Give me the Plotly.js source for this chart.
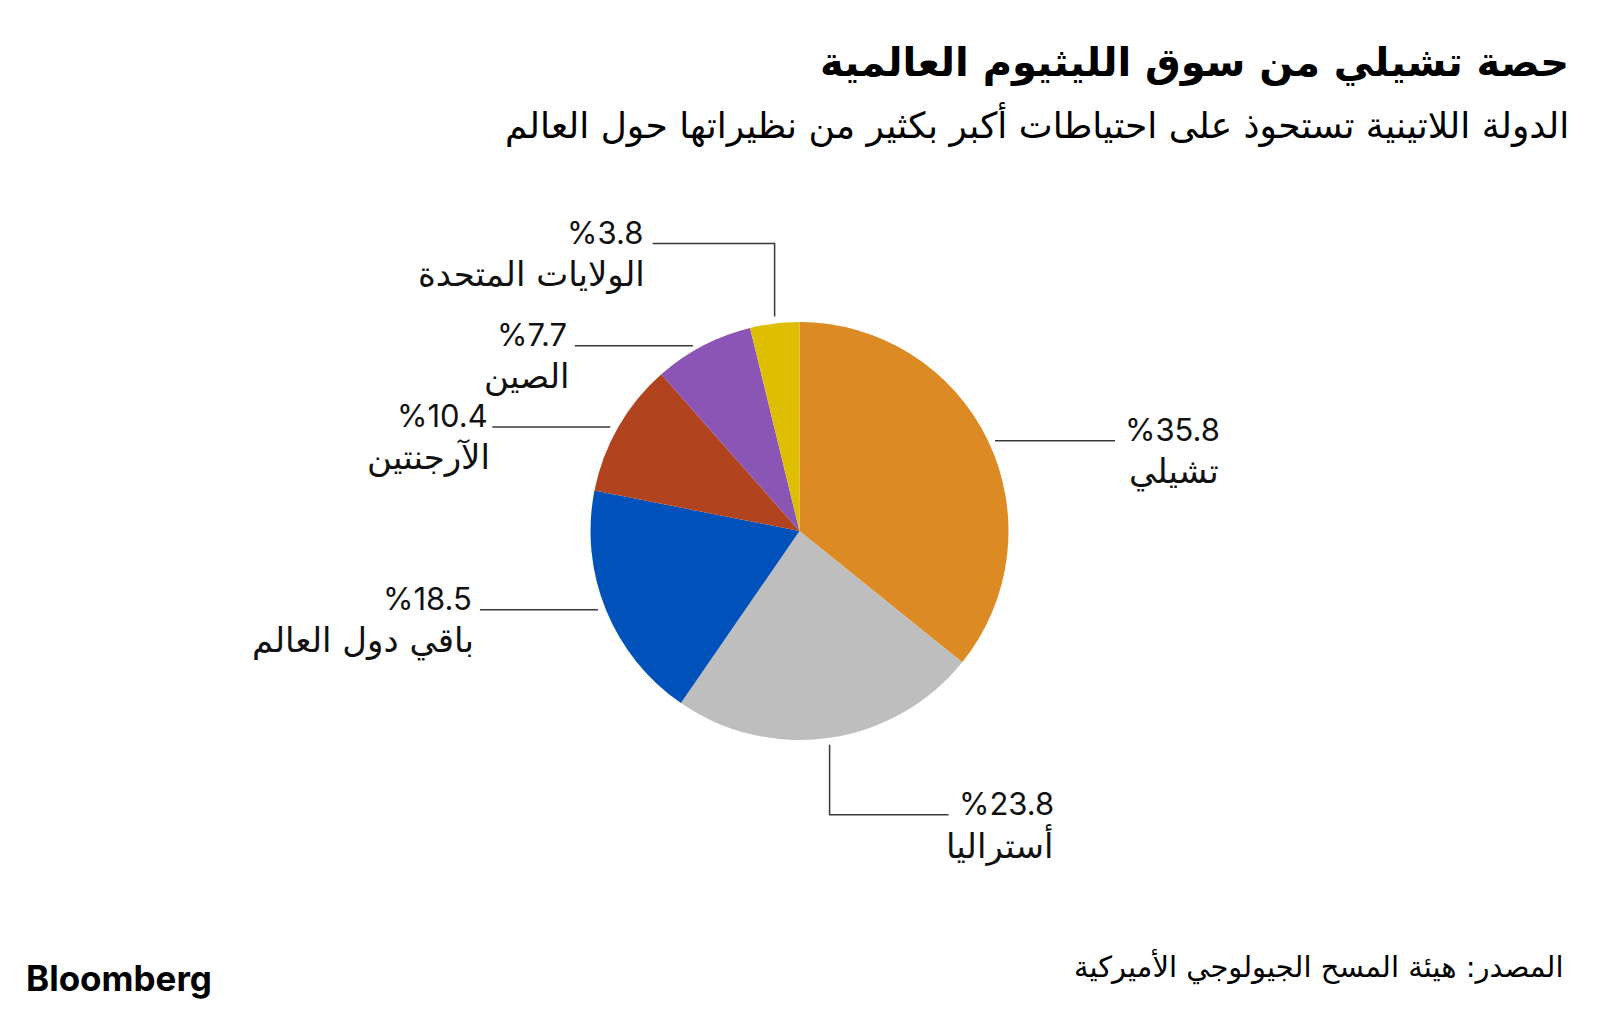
<!DOCTYPE html>
<html>
<head>
<meta charset="utf-8">
<script src="https://cdn.plot.ly/plotly-3.0.1.min.js"></script>
<style>
  html, body { margin: 0; padding: 0; background: #fff; }
  #chart { width: 1600px; height: 1012px; }
</style>
</head>
<body>
<div id="chart"></div>
<script>
// ---- Data ----
const countries = ['تشيلي', 'أستراليا', 'باقي دول العالم', 'الآرجنتين', 'الصين', 'الولايات المتحدة'];
const shares = [35.8, 23.8, 18.5, 10.4, 7.7, 3.8];
const colors = ['#DC8A24', '#BEBEBE', '#0052BA', '#B1431F', '#8A55B4', '#DDBE00'];

const titleText = 'حصة تشيلي من سوق الليثيوم العالمية';
const subtitleText = 'الدولة اللاتينية تستحوذ على احتياطات أكبر بكثير من نظيراتها حول العالم';
const sourceText = 'المصدر: هيئة المسح الجيولوجي الأميركية';
const brandText = 'Bloomberg';

// ---- Layout constants (pixels) ----
const W = 1600, H = 1012;
const CX = 799.5, CY = 531, R = 209;
// leader line style per slice: kind 'h' = horizontal; 'v' = vertical then horizontal
const leaders = [
  {kind: 'h', dir: 1,  gap: 7,  len: 120, tgap: 8},
  {kind: 'v', dir: 1,  vdir: 1,  gap: 7, vlen: 70, len: 119, tgap: 8},
  {kind: 'h', dir: -1, gap: 8,  len: 118, tgap: 6},
  {kind: 'h', dir: -1, gap: 8,  len: 118, tgap: 2},
  {kind: 'h', dir: -1, gap: 10, len: 118, tgap: 6},
  {kind: 'v', dir: -1, vdir: -1, gap: 7, vlen: 73, len: 122, tgap: 8}
];

const px = x => x / W;
const py = y => 1 - y / H;

const LABEL_FONT = 'Inter, "DejaVu Sans", sans-serif';
const ARABIC_FONT = '"DejaVu Sans", "Noto Sans", sans-serif';

const shapes = [];
const annotations = [];

const total = shares.reduce((a, b) => a + b, 0);
let cum = 0;
shares.forEach((v, i) => {
  const mid = (cum + v / 2) / total * 2 * Math.PI; // clockwise from 12 o'clock
  cum += v;
  const ex = CX + R * Math.sin(mid);
  const ey = CY - R * Math.cos(mid);
  const L = leaders[i];
  let endX, endY;
  if (L.kind === 'h') {
    const sx = ex + L.dir * L.gap;
    endX = sx + L.dir * L.len;
    endY = ey;
    shapes.push({type: 'line', xref: 'paper', yref: 'paper',
      x0: px(sx), y0: py(ey), x1: px(endX), y1: py(ey),
      line: {color: '#3a3a3a', width: 1.5}});
  } else {
    const sy = ey + L.vdir * L.gap;
    const cy = sy + L.vdir * L.vlen;
    endX = ex + L.dir * L.len;
    endY = cy;
    shapes.push({type: 'path', xref: 'paper', yref: 'paper',
      path: `M ${px(ex)} ${py(sy)} L ${px(ex)} ${py(cy)} L ${px(endX)} ${py(cy)}`,
      line: {color: '#3a3a3a', width: 1.5}});
  }
  const tx = endX + L.dir * L.tgap;
  annotations.push({
    xref: 'paper', yref: 'paper',
    x: px(tx), y: py(endY - 11),
    xanchor: L.dir > 0 ? 'left' : 'right', yanchor: 'middle',
    text: '%' + v.toFixed(1), showarrow: false,
    font: {family: LABEL_FONT, size: 31, color: '#111'}
  });
  annotations.push({
    xref: 'paper', yref: 'paper',
    x: px(L.dir > 0 ? tx + 98 : tx + 2), y: py(endY + 31),
    xanchor: 'right', yanchor: 'middle',
    text: countries[i], showarrow: false,
    font: {family: ARABIC_FONT, size: 34, color: '#111'}
  });
});

// headers / footer
annotations.push({xref: 'paper', yref: 'paper', x: px(1571), y: py(63), xanchor: 'right', yanchor: 'middle',
  text: '<b>' + titleText + '</b>', showarrow: false, font: {family: ARABIC_FONT, size: 40, color: '#000'}});
annotations.push({xref: 'paper', yref: 'paper', x: px(1571), y: py(125), xanchor: 'right', yanchor: 'middle',
  text: subtitleText, showarrow: false, font: {family: ARABIC_FONT, size: 36, color: '#000'}});
annotations.push({xref: 'paper', yref: 'paper', x: px(1566), y: py(966), xanchor: 'right', yanchor: 'middle',
  text: sourceText, showarrow: false, font: {family: ARABIC_FONT, size: 29, color: '#000'}});
annotations.push({xref: 'paper', yref: 'paper', x: px(24), y: py(978), xanchor: 'left', yanchor: 'middle',
  text: '<b>' + brandText + '</b>', showarrow: false, font: {family: 'Inter, sans-serif', size: 35, color: '#000'}});

const data = [{
  type: 'pie',
  labels: countries,
  values: shares,
  sort: false,
  direction: 'clockwise',
  rotation: 0,
  textinfo: 'none',
  hoverinfo: 'label+percent',
  marker: {colors: colors, line: {width: 0}},
  domain: {x: [px(CX - R), px(CX + R)], y: [py(CY + R), py(CY - R)]},
  showlegend: false
}];

const layout = {
  width: W, height: H,
  margin: {l: 0, r: 0, t: 0, b: 0},
  paper_bgcolor: '#ffffff',
  plot_bgcolor: '#ffffff',
  showlegend: false,
  shapes: shapes,
  annotations: annotations
};

Plotly.newPlot('chart', data, layout, {displayModeBar: false, staticPlot: true});
</script>
</body>
</html>
